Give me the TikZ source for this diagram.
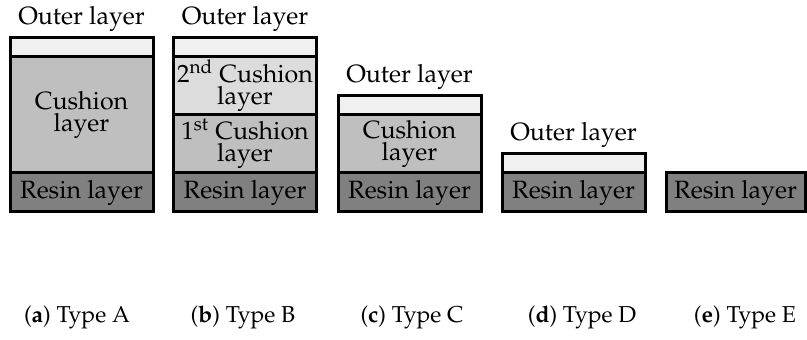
\documentclass[tikz,border=0pt]{standalone}
\usepackage[T1]{fontenc}
\usepackage{mathpazo}
\usepackage{xcolor}
\usetikzlibrary{positioning}
\definecolor{outergray}{HTML}{F0F0F0}
\definecolor{cushiongray}{HTML}{BFBFBF}
\definecolor{cushiontwo}{HTML}{DCDCDC}
\definecolor{resingray}{HTML}{808080}

\begin{document}
\begin{tikzpicture}[x=0.5pt, y=-0.5pt,
	layer/.style={rectangle, draw=black, line width=1.5pt, minimum width=71.5pt, inner sep=0pt, outer sep=0pt, align=center, font=\fontsize{12.5}{11}\selectfont},
	resin/.style={layer, fill=resingray, minimum height=19.5pt},
	cushion/.style={layer, fill=cushiongray},
	outer/.style={layer, fill=outergray, minimum height=9.5pt},
	lbl/.style={inner sep=0pt, font=\fontsize{12.5}{13}\selectfont},
	captext/.style={inner sep=0pt, font=\fontsize{11.5}{13}\selectfont},
	]
		\useasboundingbox (0,0) rectangle (807,340);

		%Type A
		\node[resin]   (resinA)   at (81.5,192.5)                  {Resin layer};
		\node[cushion, minimum height=58pt] (cushA) [above=0pt of resinA] {Cushion\\layer};
		\node[outer]   (outerA)   [above=0pt of cushA]              {};
		\node[lbl]     (textA)    [above=3pt of outerA]             {Outer layer};

		%Type B
		\node[resin]   (resinB)   at (245,192.5)                   {Resin layer};
		\node[cushion, minimum height=29pt] (cushB1) [above=0pt of resinB] {1\textsuperscript{st} Cushion\\layer};
		\node[cushion, fill=cushiontwo, minimum height=29pt] (cushB2) [above=0pt of cushB1] {2\textsuperscript{nd} Cushion\\layer};
		\node[outer]   (outerB)   [above=0pt of cushB2]             {};
		\node[lbl]     (textB)    [above=3pt of outerB]             {Outer layer};

		%Type C
		\node[resin]   (resinC)   at (409.5,192.5)                 {Resin layer};
		\node[cushion, minimum height=29pt] (cushC) [above=0pt of resinC] {Cushion\\layer};
		\node[outer]   (outerC)   [above=0pt of cushC]              {};
		\node[lbl]     (textC)    [above=3pt of outerC]             {Outer layer};

		%Type D
		\node[resin]   (resinD)   at (573.5,192.5)                 {Resin layer};
		\node[outer]   (outerD)   [above=0pt of resinD]             {};
		\node[lbl]     (textD)    [above=3pt of outerD]             {Outer layer};

		%Type E
		\node[resin, minimum width=69.5pt] (resinE) at (735.5,192.5) {Resin layer};

		%Captions
		\node[captext] (capA) at (77,317)  {(\textbf{a}) Type A};
		\node[captext] (capB) at (243,317) {(\textbf{b}) Type B};
		\node[captext] (capC) at (412,317) {(\textbf{c}) Type C};
		\node[captext] (capD) at (582,317) {(\textbf{d}) Type D};
		\node[captext] (capE) at (745,317) {(\textbf{e}) Type E};
	\end{tikzpicture}
\end{document}
